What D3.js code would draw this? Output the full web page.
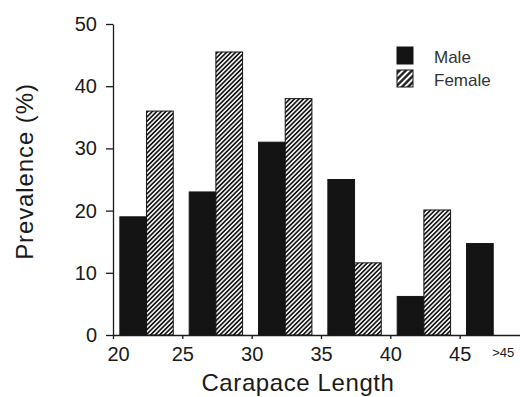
<!DOCTYPE html>
<html>
<head>
<meta charset="utf-8">
<script src="https://cdn.jsdelivr.net/npm/d3@7"></script>
<style>
  body { margin: 0; background: #fff; }
  text { font-family: "Liberation Sans", Arial, sans-serif; fill: #1a1a1a; }
</style>
</head>
<body>
<div id="chart"></div>
<script>
// data
var bins = ["20", "25", "30", "35", "40", ">45"];
var binStarts = [20, 25, 30, 35, 40, 45];
var male = [19, 23, 31, 25, 6.2, 14.7];
var female = [36, 45.5, 38, 11.6, 20.1, 0];
var sexes = ["Male", "Female"];
var xTicks = [20, 25, 30, 35, 40, 45];
var yTicks = [0, 10, 20, 30, 40, 50];

var margin = {top: 24, right: 0, bottom: 62, left: 113},
    width = 416,
    height = 311;

var svg = d3.select("#chart").append("svg")
    .attr("width", 520)
    .attr("height", 397);

var defs = svg.append("defs");

// diagonal hatch used for the female bars
function hatch(id, size, stroke) {
  var p = defs.append("pattern")
      .attr("id", id)
      .attr("patternUnits", "userSpaceOnUse")
      .attr("width", size)
      .attr("height", size)
      .attr("patternTransform", "rotate(45)");
  p.append("rect").attr("width", size).attr("height", size).attr("fill", "#fff");
  p.append("line")
      .attr("x1", size / 2).attr("y1", 0)
      .attr("x2", size / 2).attr("y2", size)
      .attr("stroke", "#141414")
      .attr("stroke-width", stroke);
}
hatch("hatch", 3.2, 1.7);
hatch("hatchLegend", 4.4, 2.3);

var g = svg.append("g")
    .attr("transform", "translate(" + margin.left + "," + margin.top + ")");

// scales
var x = d3.scaleLinear().domain([20, 50]).range([0, width]);
var y = d3.scaleLinear().domain([0, 50]).range([height, 0]);

var xb = d3.scaleBand()
    .domain(bins)
    .range([0, x(50)])
    .paddingInner(0.23)
    .paddingOuter(0.115)
    .align(0.43);

var xs = d3.scaleBand().domain(sexes).range([0, xb.bandwidth()]);

var rows = bins.map(function(b, i) {
  return {bin: b, start: binStarts[i], values: [
    {sex: "Male", v: male[i]},
    {sex: "Female", v: female[i]}
  ]};
});

// bars
var grp = g.selectAll(".grp")
    .data(rows)
  .enter().append("g")
    .attr("transform", function(d) { return "translate(" + xb(d.bin) + ",0)"; });

grp.selectAll("rect")
    .data(function(d) { return d.values.filter(function(e) { return e.v > 0; }); })
  .enter().append("rect")
    .attr("x", function(d) { return xs(d.sex); })
    .attr("width", xs.bandwidth())
    .attr("y", function(d) { return y(d.v); })
    .attr("height", function(d) { return height - y(d.v); })
    .attr("fill", function(d) { return d.sex == "Male" ? "#141414" : "url(#hatch)"; })
    .attr("stroke", "#141414")
    .attr("stroke-width", 1);

// x axis
var xAxis = g.append("g")
    .attr("transform", "translate(0," + height + ")")
    .call(d3.axisBottom(x)
      .tickValues(xTicks)
      .tickSize(4)
      .tickSizeOuter(0)
      .tickPadding(8));

xAxis.selectAll("text")
    .style("font-size", "20px")
    .attr("dx", function(d, i) { return i == 0 ? 5 : 0; });

// extra label for the open-ended bin
xAxis.append("text")
    .attr("x", xb(">45") + xs("Female") - 1)
    .attr("y", 13)
    .attr("dy", "0.71em")
    .attr("text-anchor", "start")
    .style("font-size", "13px")
    .attr("fill", "#1a1a1a")
    .text(">45");

// y axis
var yAxis = g.append("g")
    .call(d3.axisLeft(y)
      .tickValues(yTicks)
      .tickSize(7)
      .tickSizeOuter(0)
      .tickPadding(9));

yAxis.selectAll("text").style("font-size", "20px");
svg.selectAll(".domain, .tick line").attr("stroke", "#1a1a1a").attr("stroke-width", 1.3);

// axis titles
svg.append("text")
    .attr("transform", "translate(33," + (margin.top + height / 2 - 8) + ") rotate(-90)")
    .attr("text-anchor", "middle")
    .style("font-size", "24px")
    .style("letter-spacing", "0.9px")
    .text("Prevalence (%)");

svg.append("text")
    .attr("x", 298)
    .attr("y", 391)
    .attr("text-anchor", "middle")
    .style("font-size", "24px")
    .style("letter-spacing", "0.6px")
    .text("Carapace Length");

// legend
var legend = svg.append("g")
    .attr("transform", "translate(397,47)");

var li = legend.selectAll(".li")
    .data(sexes)
  .enter().append("g")
    .attr("transform", function(d, i) { return "translate(0," + i * 23 + ")"; });

li.append("rect")
    .attr("width", 16)
    .attr("height", 17)
    .attr("fill", function(d) { return d == "Male" ? "#141414" : "url(#hatchLegend)"; })
    .attr("stroke", "#141414");

li.append("text")
    .attr("x", 37)
    .attr("y", 16)
    .style("font-size", "17px")
    .style("fill", "#333")
    .text(function(d) { return d; });
</script>
</body>
</html>
